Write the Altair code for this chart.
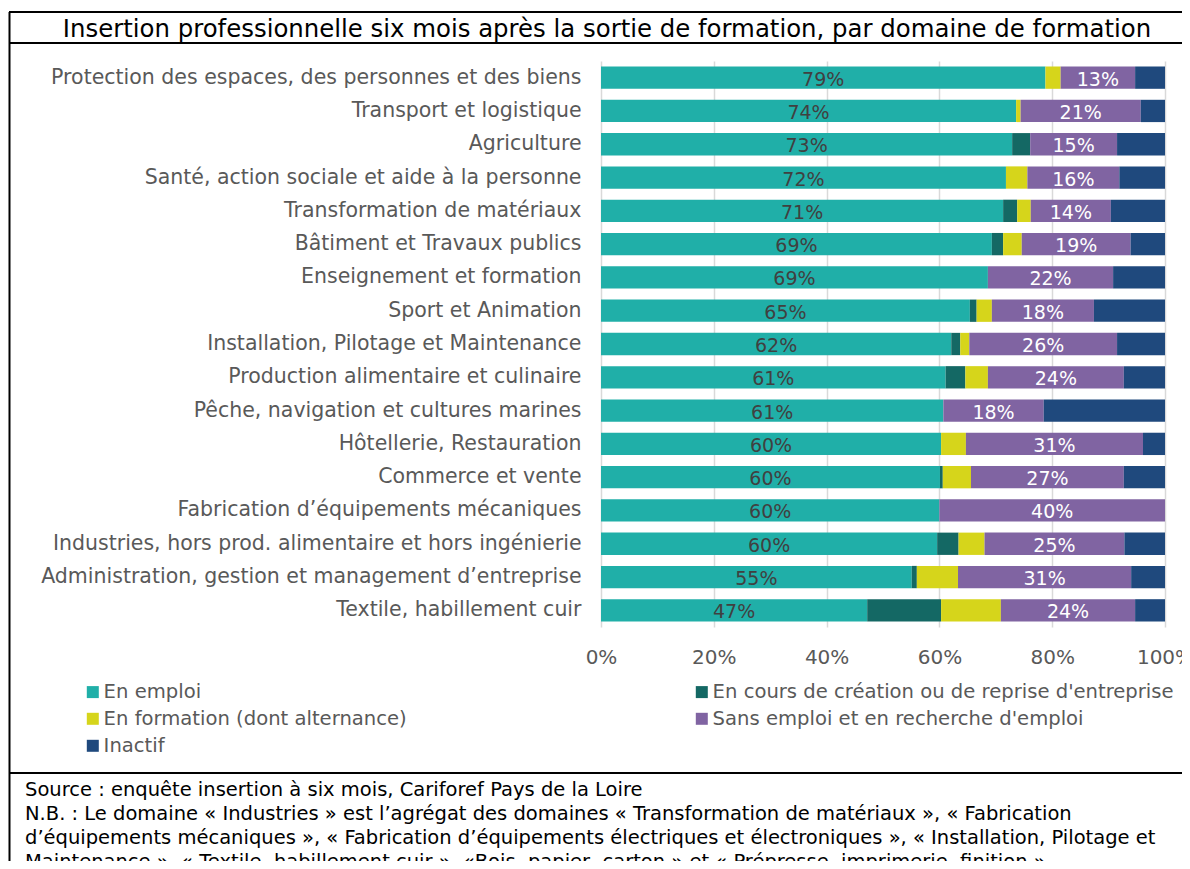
import altair as alt
import pandas as pd

FONT = "DejaVu Sans"

categories = [
    "Protection des espaces, des personnes et des biens",
    "Transport et logistique",
    "Agriculture",
    "Santé, action sociale et aide à la personne",
    "Transformation de matériaux",
    "Bâtiment et Travaux publics",
    "Enseignement et formation",
    "Sport et Animation",
    "Installation, Pilotage et Maintenance",
    "Production alimentaire et culinaire",
    "Pêche, navigation et cultures marines",
    "Hôtellerie, Restauration",
    "Commerce et vente",
    "Fabrication d’équipements mécaniques",
    "Industries, hors prod. alimentaire et hors ingénierie",
    "Administration, gestion et management d’entreprise",
    "Textile, habillement cuir",
]
en_emploi = [78.8, 73.6, 72.9, 71.8, 71.3, 69.3, 68.6, 65.4, 62.1, 61.1, 60.7, 60.3, 60.1, 60.0, 59.6, 55.1, 47.2]
creation = [0.0, 0.0, 3.2, 0.0, 2.5, 2.0, 0.0, 1.2, 1.6, 3.5, 0.0, 0.0, 0.5, 0.0, 3.8, 0.9, 13.1]
formation = [2.7, 0.8, 0.0, 3.8, 2.4, 3.3, 0.0, 2.7, 1.6, 4.0, 0.0, 4.4, 5.0, 0.0, 4.6, 7.3, 10.6]
sans_emploi = [13.2, 21.3, 15.4, 16.3, 14.2, 19.3, 22.2, 18.1, 26.2, 24.1, 17.8, 31.4, 27.1, 40.0, 24.8, 30.7, 23.8]
inactif = [5.3, 4.3, 8.5, 8.1, 9.6, 6.1, 9.2, 12.6, 8.5, 7.3, 21.5, 3.9, 7.3, 0.0, 7.2, 6.0, 5.3]

series_names = [
    "En emploi",
    "En cours de création ou de reprise d'entreprise",
    "En formation (dont alternance)",
    "Sans emploi et en recherche d'emploi",
    "Inactif",
]
series_colors = ["#20AFA8", "#146864", "#D6D51B", "#8064A2", "#1F497D"]
# legend entries listed column by column (2 columns)
legend_order = [series_names[0], series_names[2], series_names[4], series_names[1], series_names[3]]
x_ticks = [0, 20, 40, 60, 80, 100]

title_text = "Insertion professionnelle six mois après la sortie de formation, par domaine de formation"
footer_lines = [
    "Source : enquête insertion à six mois, Cariforef Pays de la Loire",
    "N.B. : Le domaine « Industries » est l’agrégat des domaines « Transformation de matériaux », « Fabrication",
    "d’équipements mécaniques », « Fabrication d’équipements électriques et électroniques », « Installation, Pilotage et",
    "Maintenance », « Textile, habillement cuir », «Bois, papier, carton » et « Prépresse, imprimerie, finition ».",
]

series_values = [en_emploi, creation, formation, sans_emploi, inactif]
rows = []
for i, cat in enumerate(categories):
    for k, name in enumerate(series_names):
        rows.append({"cat": cat, "serie": name, "order": k, "value": series_values[k][i]})
df = pd.DataFrame(rows)

y_enc = alt.Y(
    "cat:N",
    sort=categories,
    title=None,
    scale=alt.Scale(paddingInner=0.33, paddingOuter=0.165),
    axis=alt.Axis(domain=False, ticks=False, labelFontSize=20.5, labelColor="#595959",
                  labelPadding=20, labelLimit=700, labelFont=FONT),
)
x_enc = alt.X(
    "value:Q",
    stack="zero",
    title=None,
    scale=alt.Scale(domain=[0, 100], nice=False),
    axis=alt.Axis(values=x_ticks, labelExpr="datum.value + '%'", domain=False, ticks=False,
                  grid=True, gridColor="#D9D9D9", gridWidth=1.5, labelFontSize=20,
                  labelColor="#595959", labelPadding=20, labelFont=FONT, labelFlush=False),
)

bars = alt.Chart(df).mark_bar().encode(
    x=x_enc,
    y=y_enc,
    color=alt.Color(
        "serie:N",
        scale=alt.Scale(domain=series_names, range=series_colors),
        legend=alt.Legend(title=None, orient="none", legendX=-518, legendY=621, columns=2,
                          values=legend_order,
                          symbolType="square", symbolSize=144, symbolStrokeWidth=0,
                          labelFontSize=19.6, labelColor="#595959", labelFont=FONT,
                          rowPadding=6, columnPadding=285, labelOffset=1, padding=0,
                          labelLimit=700),
    ),
    order=alt.Order("order:Q"),
)

labels = (
    alt.Chart(df)
    .transform_stack(stack="value", groupby=["cat"], as_=["x0", "x1"], sort=[alt.SortField("order")])
    .transform_calculate(mid="(datum.x0 + datum.x1) / 2", lab="format(datum.value, '.0f') + '%'")
    .transform_filter("(datum.order == 0 || datum.order == 3) && datum.value > 0")
    .mark_text(fontSize=19, baseline="middle", dy=2, font=FONT)
    .encode(
        x=alt.X("mid:Q"),
        y=alt.Y("cat:N", sort=categories),
        text="lab:N",
        color=alt.condition("datum.order == 0", alt.value("#404040"), alt.value("#FFFFFF")),
    )
)

one = alt.Data(values=[{"k": 0}])
frame_left = alt.Chart(one).mark_rule(color="black", strokeWidth=2).encode(
    x=alt.value(-591.5), y=alt.value(-49), y2=alt.value(820))
frame_top = alt.Chart(one).mark_rule(color="black", strokeWidth=2).encode(
    x=alt.value(-592), x2=alt.value(620), y=alt.value(-49))
title_line = alt.Chart(one).mark_rule(color="black", strokeWidth=2).encode(
    x=alt.value(-592), x2=alt.value(620), y=alt.value(-18))
footer_line = alt.Chart(one).mark_rule(color="black", strokeWidth=2).encode(
    x=alt.value(-592), x2=alt.value(620), y=alt.value(712))
title = alt.Chart(one).mark_text(align="center", baseline="middle", fontSize=24.4, color="black", font=FONT).encode(
    x=alt.value(6), y=alt.value(-31.5), text=alt.value(title_text))
footer = alt.Chart(one).mark_text(align="left", baseline="top", fontSize=19.5, lineHeight=24, color="black", font=FONT).encode(
    x=alt.value(25 - 601), y=alt.value(720), text=alt.value(footer_lines))

chart = (
    alt.layer(bars, labels, frame_left, frame_top, title_line, footer_line, title, footer)
    .properties(
        width=564,
        height=566,
        padding={"left": 593, "top": 53, "right": 17, "bottom": 234},
        autosize=alt.AutoSizeParams(type="none"),
        background="white",
    )
    .configure_view(stroke=None)
)

chart.save("out.html", embed_options={"renderer": "svg", "actions": False})
